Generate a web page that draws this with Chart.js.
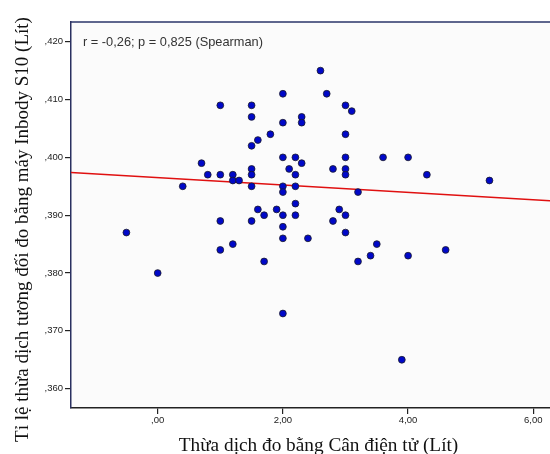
<!DOCTYPE html>
<html>
<head>
<meta charset="utf-8">
<script src="https://cdn.jsdelivr.net/npm/chart.js@4/dist/chart.umd.min.js"></script>
<style>
  html, body { margin: 0; padding: 0; background: #fff; }
  #wrap { width: 550px; height: 454px; overflow: hidden; }
</style>
</head>
<body>
<div id="wrap"><canvas id="chart" width="550" height="454"></canvas></div>
<script>
// data
const xValues = [
  -0.5, 0.0, 0.4, 0.7, 0.8, 1.0, 1.0, 1.0, 1.0, 1.2,
  1.2, 1.2, 1.3, 1.5, 1.5, 1.5, 1.5, 1.5, 1.5, 1.5,
  1.6, 1.6, 1.7, 1.7, 1.8, 1.9, 2.0, 2.0, 2.0, 2.0,
  2.0, 2.0, 2.0, 2.0, 2.0, 2.1, 2.2, 2.2, 2.2, 2.2,
  2.2, 2.3, 2.3, 2.3, 2.4, 2.6, 2.7, 2.8, 2.8, 2.9,
  3.0, 3.0, 3.0, 3.0, 3.0, 3.0, 3.0, 3.1, 3.2, 3.2,
  3.4, 3.5, 3.6, 3.9, 4.0, 4.0, 4.3, 4.6, 5.3
];
const yValues = [
  0.387, 0.380, 0.395, 0.399, 0.397, 0.409, 0.397, 0.389, 0.384, 0.397,
  0.396, 0.385, 0.396, 0.409, 0.407, 0.402, 0.398, 0.397, 0.395, 0.389,
  0.403, 0.391, 0.390, 0.382, 0.404, 0.391, 0.411, 0.406, 0.400, 0.395,
  0.394, 0.390, 0.388, 0.386, 0.373, 0.398, 0.400, 0.397, 0.395, 0.392,
  0.390, 0.407, 0.406, 0.399, 0.386, 0.415, 0.411, 0.398, 0.389, 0.391,
  0.409, 0.404, 0.400, 0.398, 0.397, 0.390, 0.387, 0.408, 0.394, 0.382,
  0.383, 0.385, 0.400, 0.365, 0.400, 0.383, 0.397, 0.384, 0.396
];
// fit line end points
const fitX = [-1.385, 6.27];
const fitY = [0.3974, 0.3925];

const xTicks = [0, 2, 4, 6];
const xTickLabels = [',00', '2,00', '4,00', '6,00'];
const yTicks = [0.36, 0.37, 0.38, 0.39, 0.40, 0.41, 0.42];
const yTickLabels = [',360', ',370', ',380', ',390', ',400', ',410', ',420'];

const xTitle = 'Thừa dịch đo bằng Cân điện tử (Lít)';
const yTitle = 'Tỉ lệ thừa dịch tương đối đo bằng máy Inbody S10 (Lít)';
const statText = 'r = -0,26; p = 0,825 (Spearman)';

const points = xValues.map((x, i) => ({ x: x, y: yValues[i] }));
const fitLine = fitX.map((x, i) => ({ x: x, y: fitY[i] }));

// background + plot frame + texts
const decor = {
  id: 'decor',
  beforeDraw(chart) {
    const ctx = chart.ctx;
    const a = chart.chartArea;
    ctx.save();
    ctx.fillStyle = '#ffffff';
    ctx.fillRect(0, 0, chart.width, chart.height);
    ctx.fillStyle = '#fbfbfb';
    ctx.fillRect(a.left, a.top, a.right - a.left, a.bottom - a.top);
    ctx.restore();
  },
  afterDraw(chart) {
    const ctx = chart.ctx;
    const a = chart.chartArea;
    ctx.save();
    // top frame line
    ctx.strokeStyle = '#2a3468';
    ctx.lineWidth = 1.5;
    ctx.beginPath();
    ctx.moveTo(a.left, a.top);
    ctx.lineTo(a.right, a.top);
    ctx.stroke();

    ctx.fillStyle = '#333';
    ctx.font = '12.8px "Liberation Sans", Arial, sans-serif';
    ctx.textAlign = 'left';
    ctx.textBaseline = 'middle';
    ctx.fillText(statText, a.left + 12, 42.5);

    ctx.fillStyle = '#111';
    ctx.font = '19.3px "Liberation Serif", "Times New Roman", serif';
    ctx.textAlign = 'center';
    ctx.textBaseline = 'middle';
    ctx.fillText(xTitle, 318.5, 446);

    ctx.translate(23, 229.5);
    ctx.rotate(-Math.PI / 2);
    ctx.font = '19px "Liberation Serif", "Times New Roman", serif';
    ctx.fillText(yTitle, 0, 0);
    ctx.restore();
  }
};

new Chart(document.getElementById('chart'), {
  type: 'scatter',
  data: {
    datasets: [
      {
        label: 'points',
        data: points,
        backgroundColor: '#0008c8',
        borderColor: '#1a1a2a',
        borderWidth: 0.8,
        pointRadius: 3.4,
        order: 0
      },
      {
        label: 'fit',
        data: fitLine,
        showLine: true,
        borderColor: '#e01010',
        borderWidth: 1.5,
        pointRadius: 0,
        order: 1
      }
    ]
  },
  options: {
    responsive: false,
    animation: false,
    layout: { autoPadding: false, padding: { top: 22, left: 0, right: 0, bottom: 0 } },
    plugins: { legend: { display: false }, tooltip: { enabled: false } },
    scales: {
      x: {
        type: 'linear',
        min: -1.385,
        max: 6.267,
        afterFit(s) { s.height = 46; s.paddingLeft = 0; s.paddingRight = 0; },
        afterBuildTicks(s) { s.ticks = xTicks.map(v => ({ value: v })); },
        border: { display: true, color: '#222', width: 1.5 },
        grid: { display: true, drawOnChartArea: false, drawTicks: true, tickLength: 6, color: '#222', lineWidth: 1.2 },
        ticks: {
          padding: 1,
          color: '#222',
          font: { family: '"Liberation Sans", Arial, sans-serif', size: 9.5 },
          maxRotation: 0,
          callback: (v) => xTickLabels[xTicks.indexOf(v)]
        }
      },
      y: {
        type: 'linear',
        min: 0.35666,
        max: 0.42341,
        afterFit(s) { s.width = 71; s.paddingTop = 0; s.paddingBottom = 0; },
        afterBuildTicks(s) { s.ticks = yTicks.map(v => ({ value: v })); },
        border: { display: true, color: '#2a3060', width: 1.5 },
        grid: { display: true, drawOnChartArea: false, drawTicks: true, tickLength: 6, color: '#222', lineWidth: 1.2 },
        ticks: {
          padding: 2,
          color: '#222',
          font: { family: '"Liberation Sans", Arial, sans-serif', size: 9.5 },
          callback: (v) => yTickLabels[yTicks.findIndex(t => Math.abs(t - v) < 1e-9)]
        }
      }
    }
  },
  plugins: [decor]
});
</script>
</body>
</html>
